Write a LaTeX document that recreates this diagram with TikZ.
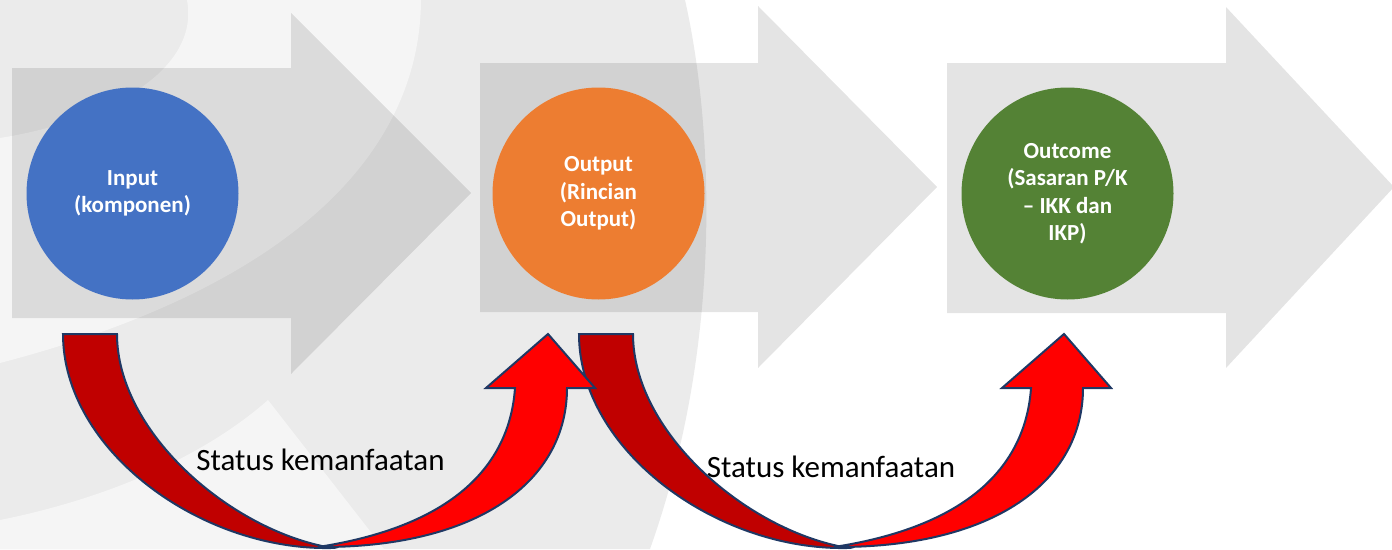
\documentclass[tikz,border=0pt]{standalone}
\usepackage{fontspec}
\setmainfont{Carlito}
\usepackage{tikz}

\definecolor{inblue}{HTML}{4472C4}
\definecolor{outorange}{HTML}{ED7D31}
\definecolor{ocgreen}{HTML}{548235}
\definecolor{darkred}{HTML}{C00000}
\definecolor{navy}{HTML}{1F3864}
\definecolor{wmgray}{HTML}{EBEBEB}
\definecolor{wmlight}{HTML}{F5F5F5}

\begin{document}
\begin{tikzpicture}[x=1pt, y=-1pt, node distance=466pt,
                stage/.style = {circle, minimum size=212pt, inner sep=0pt, text=white, align=center,
                                font=\fontsize{23}{27.5}\selectfont\bfseries},
                chevron/.style = {fill=black, fill opacity=0.105},
                band/.style = {draw=navy, line width=2pt, line join=miter},
                lbl/.style = {anchor=base, font=\fontsize{31}{37}\selectfont}]
                \useasboundingbox (0,0) rectangle (1392,549);
                % faint logo behind
                \fill[wmgray] (0,0) -- (685,0) .. controls (710,110) and (728,330) .. (650,549) -- (0,549) -- cycle;
                \fill[wmlight] (187,0) -- (421,0) .. controls (420,160) and (280,290) .. (0,363) -- (0,138) .. controls (110,120) and (200,70) .. (187,0) -- cycle;
                \fill[wmlight] (268,400) -- (384,549) -- (0,549) -- (0,520) .. controls (100,500) and (200,460) .. (268,400) -- cycle;
                % grey block arrows
                \fill[chevron] (12,68) -- (291,68) -- (291,13) -- (471,193) -- (291,374) -- (291,318) -- (12,318) -- cycle;
                \fill[chevron] (480,63) -- (758,63) -- (758,6) -- (937,187) -- (758,368) -- (758,312) -- (480,312) -- cycle;
                \fill[chevron] (947,63) -- (1226,63) -- (1226,7) -- (1394,187) -- (1226,368) -- (1226,313) -- (947,313) -- cycle;
                \node[stage, fill=inblue] (inp) at (132.5,193.5) {Input\\(komponen)};
                \node[stage, fill=outorange] (outp) [right of = inp] {Output\\(Rincian\\Output)};
                \node[stage, fill=ocgreen, node distance=469pt] (outc) [right of = outp] {Outcome\\(Sasaran P/K\\– IKK dan\\IKP)};
                % curved red arrows
                \foreach \dx in {516,0} {
                    \begin{scope}[xshift=\dx]
                        \draw[band, fill=darkred] (63,334) -- (117,334) .. controls (117,430) and (225,525) .. (322,546)
                            -- (330,548) .. controls (200,550) and (63,450) .. (63,334) -- cycle;
                        \draw[band, fill=red] (318,547) .. controls (480,548) and (567,480) .. (567,388)
                            -- (595,388) -- (548,334) -- (486,388) -- (515,388)
                            .. controls (510,460) and (460,525) .. (318,547) -- cycle;
                    \end{scope}
                }
                \node[lbl] (st1) at (320.5,470) {Status kemanfaatan};
                \node[lbl] (st2) at (831,477) {Status kemanfaatan};
            \end{tikzpicture}
\end{document}
